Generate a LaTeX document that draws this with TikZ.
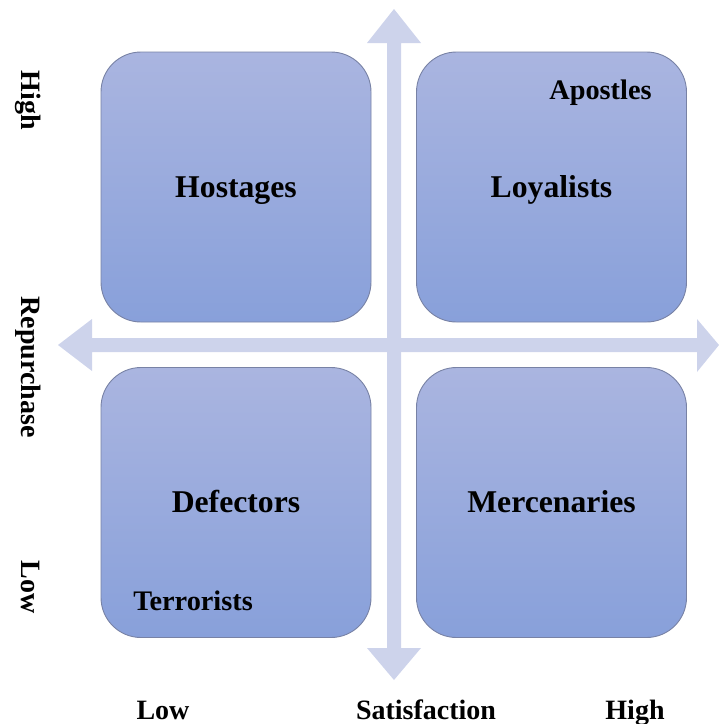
\documentclass[tikz,border=0pt]{standalone}
\usepackage{fontspec}
\setmainfont{Liberation Serif}
\begin{document}
\begin{tikzpicture}[x=1pt,y=-1pt,
  quad/.style={draw=boxline, line width=0.9pt, rounded corners=40pt,
    top color=boxtop, bottom color=boxbot, minimum width=270pt,
    minimum height=270pt, inner sep=0pt},
  bigtxt/.style={font=\fontsize{31.7}{36}\selectfont\bfseries, inner sep=0pt, anchor=base},
  smalltxt/.style={font=\fontsize{28.3}{32}\selectfont\bfseries, inner sep=0pt, anchor=base},
  axistxt/.style={font=\fontsize{28}{32}\selectfont\bfseries, inner sep=0pt, anchor=base},
  arrowfill/.style={fill=arrowcol, draw=none}]
\definecolor{boxtop}{RGB}{170,181,224}
\definecolor{boxbot}{RGB}{136,160,218}
\definecolor{boxline}{RGB}{120,130,165}
\definecolor{arrowcol}{RGB}{205,211,235}
\useasboundingbox (0,0) rectangle (719,724);
% quadrant boxes
\node[quad] (hq) at (236,187) {};
\node[quad] (lq) at (551.5,187) {};
\node[quad] (dq) at (236,502.5) {};
\node[quad] (mq) at (551.5,502.5) {};
% axes as block arrows
\fill[arrowfill] (387,43) -- (367,43) -- (394,9) -- (421,43) -- (401,43)
  -- (401,648) -- (421,648) -- (394,680) -- (367,648) -- (387,648) -- cycle;
\fill[arrowfill] (92,338) -- (92,319) -- (58,345) -- (92,371) -- (92,352)
  -- (697,352) -- (697,372) -- (719,345) -- (697,319) -- (697,338) -- cycle;
% labels
\node[bigtxt] (hostages) at (236,197) {Hostages};
\node[bigtxt] (loyalists) at (551.5,197) {Loyalists};
\node[bigtxt] (defectors) at (236,512) {Defectors};
\node[bigtxt] (mercenaries) at (551.5,512) {Mercenaries};
\node[smalltxt] (apostles) at (600.5,99) {Apostles};
\node[smalltxt] (terrorists) at (193,610) {Terrorists};
% axis labels
\node[axistxt, rotate=-90] (rhigh) at (21.5,100) {High};
\node[axistxt, rotate=-90] (rep) at (21.5,367) {Repurchase};
\node[axistxt, rotate=-90] (rlow) at (21.5,587) {Low};
\node[axistxt] (slow) at (163,719) {Low};
\node[axistxt] (sat) at (426,719) {Satisfaction};
\node[axistxt] (shigh) at (635,719) {High};
\end{tikzpicture}
\end{document}
